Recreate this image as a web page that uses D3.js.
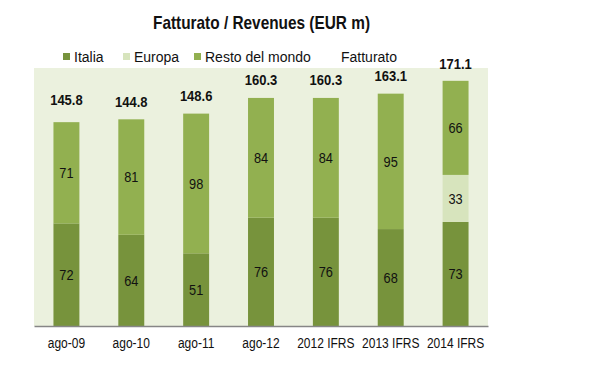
<!DOCTYPE html>
<html>
<head>
<meta charset="utf-8">
<script src="https://cdn.jsdelivr.net/npm/d3@7"></script>
<style>
    body { margin: 0; background: #fff; }
    text { font-family: "Liberation Sans", Arial, sans-serif; fill: #111; }
</style>
</head>
<body>
<div id="chart"></div>
<script>
const categories = ['ago-09', 'ago-10', 'ago-11', 'ago-12', '2012 IFRS', '2013 IFRS', '2014 IFRS'];
const italia = [72, 64, 51, 76, 76, 68, 73];
const europa = [0, 0, 0, 0, 0, 0, 33];
const restoDelMondo = [71, 81, 98, 84, 84, 95, 66];
const fatturato = [145.8, 144.8, 148.6, 160.3, 160.3, 163.1, 171.1];

const seriesNames = ['Italia', 'Europa', 'Resto del mondo'];
const colors = ['#77933c', '#d7e4bd', '#92b050'];

const width = 600, height = 370;
const plot = { left: 34, right: 488, top: 68, bottom: 326 };
// the original font is a condensed one, squeeze Liberation Sans a bit
const narrow = 0.8;

const svg = d3.select('#chart')
    .append('svg')
    .attr('width', width)
    .attr('height', height);

// plot area background
svg.append('rect')
    .attr('x', plot.left)
    .attr('y', plot.top)
    .attr('width', plot.right - plot.left)
    .attr('height', plot.bottom - plot.top)
    .attr('fill', '#ebf1de');

const x = d3.scaleBand()
    .domain(categories)
    .range([plot.left, plot.right])
    .paddingInner(0.6)
    .paddingOuter(0.3);

const y = d3.scaleLinear()
    .domain([0, 181])
    .range([plot.bottom, plot.top]);

// build stacked table
const table = categories.map((c, i) => ({
    cat: c,
    'Italia': italia[i],
    'Europa': europa[i],
    'Resto del mondo': restoDelMondo[i]
}));

const stacked = d3.stack().keys(seriesNames)(table);

const layers = svg.selectAll('.layer')
    .data(stacked)
    .enter()
    .append('g')
    .attr('class', 'layer')
    .attr('fill', (d, i) => colors[i]);

layers.selectAll('rect')
    .data(d => d)
    .enter()
    .append('rect')
    .attr('x', d => x(d.data.cat))
    .attr('y', d => y(d[1]))
    .attr('width', x.bandwidth())
    .attr('height', d => y(d[0]) - y(d[1]));

// segment labels
layers.selectAll('text')
    .data(d => d.filter(p => p[1] - p[0] > 0))
    .enter()
    .append('text')
    .attr('transform', d => `translate(${x(d.data.cat) + x.bandwidth() / 2},${(y(d[0]) + y(d[1])) / 2}) scale(0.88,1)`)
    .attr('dy', '0.36em')
    .attr('text-anchor', 'middle')
    .style('font-size', '14.5px')
    .text(d => d[1] - d[0]);

// x axis
const xAxis = d3.axisBottom(x).tickSize(0).tickPadding(11);
const gx = svg.append('g')
    .attr('transform', `translate(0,${plot.bottom})`)
    .call(xAxis);
gx.select('.domain').attr('stroke', '#868686').attr('stroke-width', 1.5);
gx.selectAll('text')
    .attr('transform', `scale(${narrow},1)`)
    .style('font-size', '15px')
    .style('font-family', '"Liberation Sans", Arial, sans-serif')
    .attr('fill', '#111');

// Fatturato totals (no line drawn, only labels)
svg.selectAll('.total')
    .data(fatturato)
    .enter()
    .append('text')
    .attr('class', 'total')
    .attr('transform', (d, i) => `translate(${x(categories[i]) + x.bandwidth() / 2},${y(d) - 18}) scale(0.93,1)`)
    .attr('dy', '0.36em')
    .attr('text-anchor', 'middle')
    .style('font-size', '14px')
    .style('font-weight', 'bold')
    .text(d => d.toFixed(1));

// title
svg.append('text')
    .attr('x', 153)
    .attr('y', 29)
    .attr('textLength', 217)
    .attr('lengthAdjust', 'spacingAndGlyphs')
    .style('font-size', '19px')
    .style('font-weight', 'bold')
    .text('Fatturato / Revenues (EUR m)');

// legend
const legendItems = [
    { name: 'Italia', color: colors[0], x: 63 },
    { name: 'Europa', color: colors[1], x: 123 },
    { name: 'Resto del mondo', color: colors[2], x: 194 },
    { name: 'Fatturato', color: null, x: 330 }
];
const legend = svg.selectAll('.legend')
    .data(legendItems)
    .enter()
    .append('g')
    .attr('class', 'legend')
    .attr('transform', d => `translate(${d.x},53)`);

legend.filter(d => d.color)
    .append('rect')
    .attr('width', 7)
    .attr('height', 7)
    .attr('fill', d => d.color);

legend.append('text')
    .attr('x', 11)
    .attr('y', 9)
    .style('font-size', '14px')
    .text(d => d.name);
</script>
</body>
</html>
